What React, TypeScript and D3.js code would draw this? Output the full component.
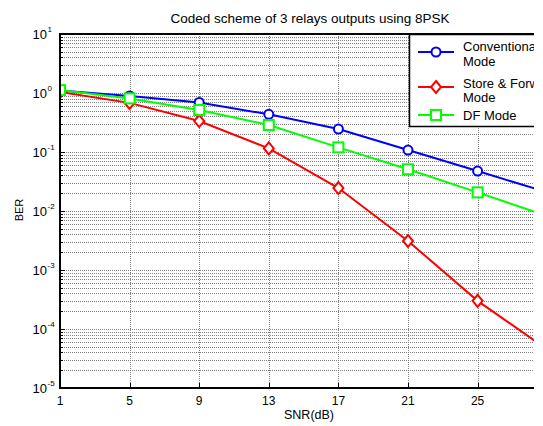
import React from "react";
import * as d3 from "d3";

const snr = [1, 5, 9, 13, 17, 21, 25, 29];
const conventional = [1.1, 0.89, 0.69, 0.435, 0.245, 0.108, 0.0476, 0.0207];
const storeForward = [1.04, 0.68, 0.335, 0.115, 0.0245, 0.0031, 0.0003, 0.000045];
const dfMode = [1.12, 0.81, 0.515, 0.287, 0.12, 0.051, 0.0207, 0.0082];
const xTicks = [1, 5, 9, 13, 17, 21, 25];
const yExponents = [1, 0, -1, -2, -3, -4, -5];

const W = 534;
const H = 426;
const left = 60;
const top = 34;
const bottom = 388;
const font = "'Liberation Sans', Arial, sans-serif";

const series = [
  { name: ["Conventional", "Mode"], color: "#0000ff", marker: "circle", values: conventional, ty: [51, 66], ly: 52 },
  { name: ["Store & Forward", "Mode"], color: "#ff0000", marker: "diamond", values: storeForward, ty: [88, 102], ly: 87 },
  { name: ["DF Mode"], color: "#00ff00", marker: "square", values: dfMode, ty: [120], ly: 115 },
];

const Marker = ({ type, x, y, color }) => {
  if (type === "circle") {
    return <circle cx={x} cy={y} r={4.5} fill="white" stroke={color} strokeWidth={2} />;
  }
  if (type === "diamond") {
    return (
      <path
        d={`M${x},${y - 6}L${x + 5},${y}L${x},${y + 6}L${x - 5},${y}Z`}
        fill="white"
        stroke={color}
        strokeWidth={2}
      />
    );
  }
  return <rect x={x - 5} y={y - 5} width={10} height={10} fill="white" stroke={color} strokeWidth={2} />;
};

export default function App() {
  const x = d3.scaleLinear().domain([1, 30]).range([left, left + 29 * 17.4]);
  const y = d3.scaleLog().domain([1e-5, 10]).range([bottom, top]);
  const right = x(30);

  // minor log grid: 2..9 in every decade
  const minor = [];
  for (let k = -5; k < 1; k++) {
    for (let d = 2; d <= 9; d++) minor.push(d * Math.pow(10, k));
  }

  const line = d3
    .line<number>()
    .x((_, i) => x(snr[i]))
    .y((d) => y(d));

  const py = (v) => Math.round(y(v)) + 0.5;

  return (
    <svg
      width={W}
      height={H}
      style={{ position: "absolute", left: 0, top: 0, background: "white" }}
      fontFamily={font}
    >
      <rect x={0} y={0} width={W} height={H} fill="white" />
      <defs>
        <clipPath id="plot">
          <rect x={left} y={top - 2} width={right - left} height={bottom - top + 4} />
        </clipPath>
      </defs>

      {/* grid */}
      <g stroke="#808080" strokeWidth={1} strokeDasharray="1 1">
        {minor.map((v, i) => (
          <line key={"m" + i} x1={left} x2={right} y1={py(v)} y2={py(v)} />
        ))}
        {yExponents.map((e) => (
          <line key={"M" + e} x1={left} x2={right} y1={py(Math.pow(10, e))} y2={py(Math.pow(10, e))} />
        ))}
        {xTicks.map((t) => (
          <line key={"x" + t} x1={Math.round(x(t)) + 0.5} x2={Math.round(x(t)) + 0.5} y1={top} y2={bottom} />
        ))}
      </g>

      {/* ticks */}
      <g stroke="black" strokeWidth={1}>
        {minor.map((v, i) => (
          <line key={"tm" + i} x1={left} x2={left + 3} y1={py(v)} y2={py(v)} />
        ))}
        {yExponents.map((e) => (
          <line key={"tM" + e} x1={left} x2={left + 5} y1={py(Math.pow(10, e))} y2={py(Math.pow(10, e))} />
        ))}
        {xTicks.map((t) => (
          <line key={"tx" + t} x1={Math.round(x(t)) + 0.5} x2={Math.round(x(t)) + 0.5} y1={bottom} y2={bottom - 5} />
        ))}
      </g>

      {/* series */}
      <g clipPath="url(#plot)">
        {series.map((s) => (
          <g key={s.color}>
            <path d={line(s.values)} fill="none" stroke={s.color} strokeWidth={2} />
            {s.values.map((v, i) => (
              <Marker key={i} type={s.marker} x={x(snr[i])} y={y(v)} color={s.color} />
            ))}
          </g>
        ))}
      </g>

      {/* axes box */}
      <g stroke="black" strokeWidth={2} fill="none">
        <line x1={left} x2={left} y1={top - 1} y2={bottom + 1} />
        <line x1={left - 1} x2={W} y1={bottom} y2={bottom} />
        <line x1={left - 1} x2={W} y1={top} y2={top} />
      </g>

      {/* tick labels */}
      <g fontSize={12} fill="black">
        {xTicks.map((t) => (
          <text key={t} x={x(t)} y={bottom + 17} textAnchor="middle">
            {t}
          </text>
        ))}
        {yExponents.map((e) => (
          <g key={e} transform={`translate(0, ${y(Math.pow(10, e))})`}>
            <text x={47} y={5} textAnchor="end" fontSize={13}>10</text>
            <text x={47.5} y={-2} fontSize={8}>{e}</text>
          </g>
        ))}
      </g>

      {/* titles */}
      <text x={310} y={23} fontSize={13.5} textAnchor="middle">
        Coded scheme of 3 relays outputs using 8PSK
      </text>
      <text x={309} y={419} fontSize={12.5} textAnchor="middle">
        SNR(dB)
      </text>
      <text transform="translate(23, 210) rotate(-90)" fontSize={11} textAnchor="middle">
        BER
      </text>

      {/* legend */}
      <g>
        <rect x={409.5} y={34.5} width={200} height={92} fill="white" stroke="black" strokeWidth={1.5} />
        {series.map((s) => (
          <g key={s.color}>
            <line x1={418} x2={454} y1={s.ly} y2={s.ly} stroke={s.color} strokeWidth={2} />
            <Marker type={s.marker} x={436} y={s.ly} color={s.color} />
            {s.name.map((t, j) => (
              <text key={j} x={463} y={s.ty[j]} fontSize={13}>
                {t}
              </text>
            ))}
          </g>
        ))}
      </g>
      <rect x={W} y={0} width={20} height={H} fill="white" />
    </svg>
  );
}
